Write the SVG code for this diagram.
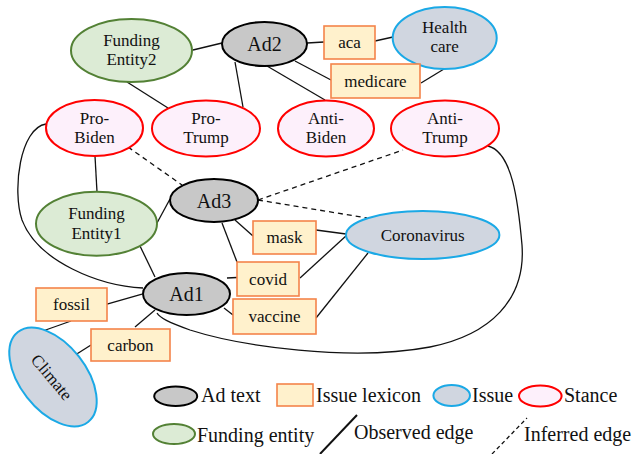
<svg xmlns="http://www.w3.org/2000/svg" width="635" height="454" viewBox="0 0 635 454">
<style>
text{font-family:"Liberation Serif","Times New Roman",serif;fill:#111;text-anchor:middle}
.t17{font-size:17px}
.t20{font-size:20px}
.lg{font-size:20px;text-anchor:start}
.ad{fill:#c8c8c8;stroke:#000;stroke-width:2}
.fund{fill:#dcebd5;stroke:#538135;stroke-width:2}
.stance{fill:#fdf0fb;stroke:#ff0000;stroke-width:2}
.issue{fill:#d0d6e0;stroke:#1ba9e6;stroke-width:2}
.lex{fill:#fff1cc;stroke:#f4844a;stroke-width:1.6}
.e{fill:none;stroke:#111;stroke-width:1.3}
.d{fill:none;stroke:#111;stroke-width:1.3;stroke-dasharray:5,4}
</style>
<rect width="635" height="454" fill="#fff"/>
<g id="connectors">
<line class="e" x1="193" y1="50" x2="222" y2="43"/>
<line class="e" x1="127" y1="82" x2="168" y2="108"/>
<line class="e" x1="235" y1="62" x2="243" y2="107"/>
<line class="e" x1="267" y1="66" x2="325" y2="100"/>
<line class="e" x1="295" y1="61" x2="331" y2="80"/>
<line class="e" x1="307" y1="43" x2="324" y2="42"/>
<line class="e" x1="375" y1="41" x2="393" y2="37"/>
<line class="e" x1="421" y1="83" x2="444" y2="69"/>
<line class="e" x1="95" y1="156" x2="97" y2="192"/>
<path class="e" d="M46,124 C20,128 12,190 22,220 C38,262 100,286 143,288"/>
<line class="e" x1="170" y1="199" x2="157" y2="223"/>
<line class="e" x1="235" y1="220" x2="253" y2="236"/>
<line class="e" x1="222" y1="223" x2="237" y2="262"/>
<line class="e" x1="140" y1="246" x2="155" y2="277"/>
<line class="e" x1="227" y1="278" x2="237" y2="277.5"/>
<line class="e" x1="316" y1="230" x2="346" y2="234"/>
<line class="e" x1="300" y1="278" x2="347" y2="235"/>
<line class="e" x1="316" y1="318" x2="368" y2="253"/>
<line class="e" x1="224" y1="308" x2="233" y2="315"/>
<line class="e" x1="142" y1="294" x2="107" y2="304"/>
<line class="e" x1="155" y1="310" x2="135" y2="327"/>
<line class="e" x1="71" y1="321" x2="40" y2="332"/>
<line class="e" x1="91" y1="345" x2="72" y2="357"/>
<path class="e" d="M488,146 C512,152 518,200 522,245 C526,300 490,335 430,347 C350,362 240,346 190,330 C168,322 160,318 157,313"/>
<line class="d" x1="128" y1="147" x2="182" y2="185"/>
<line class="d" x1="258" y1="200" x2="403" y2="150"/>
<line class="d" x1="258" y1="200" x2="367" y2="218"/>
</g>
<g id="funding-entity2"><ellipse class="fund" cx="131.5" cy="50.5" rx="60.5" ry="31.5"/><text class="t17" x="131.5" y="46">Funding</text><text class="t17" x="131.5" y="65">Entity2</text></g>
<g id="ad2"><ellipse class="ad" cx="264.5" cy="44" rx="42.5" ry="22"/><text class="t20" x="264.5" y="51">Ad2</text></g>
<g id="aca"><rect class="lex" x="324" y="26" width="51" height="33"/><text class="t17" x="349.5" y="48">aca</text></g>
<g id="health-care"><ellipse class="issue" cx="444.7" cy="38" rx="52" ry="31"/><text class="t17" x="444.7" y="32.5">Health</text><text class="t17" x="444.7" y="52">care</text></g>
<g id="medicare"><rect class="lex" x="331" y="64" width="89" height="34"/><text class="t17" x="375.5" y="87">medicare</text></g>
<g id="pro-biden"><ellipse class="stance" cx="94.5" cy="128" rx="48.5" ry="28"/><text class="t17" x="94.5" y="123.5">Pro-</text><text class="t17" x="94.5" y="142.5">Biden</text></g>
<g id="pro-trump"><ellipse class="stance" cx="206" cy="128.5" rx="54" ry="28"/><text class="t17" x="206" y="124">Pro-</text><text class="t17" x="206" y="143">Trump</text></g>
<g id="anti-biden"><ellipse class="stance" cx="326" cy="128.5" rx="48" ry="28"/><text class="t17" x="326" y="124">Anti-</text><text class="t17" x="326" y="143">Biden</text></g>
<g id="anti-trump"><ellipse class="stance" cx="445" cy="128.5" rx="54" ry="28"/><text class="t17" x="445" y="124">Anti-</text><text class="t17" x="445" y="143">Trump</text></g>
<g id="ad3"><ellipse class="ad" cx="214" cy="200.5" rx="44" ry="21.5"/><text class="t20" x="214" y="207.5">Ad3</text></g>
<g id="funding-entity1"><ellipse class="fund" cx="96.5" cy="223.7" rx="60.5" ry="32"/><text class="t17" x="96.5" y="219">Funding</text><text class="t17" x="96.5" y="238.5">Entity1</text></g>
<g id="mask"><rect class="lex" x="253" y="221" width="63" height="33"/><text class="t17" x="284.5" y="243">mask</text></g>
<g id="coronavirus"><ellipse class="issue" cx="422.7" cy="235" rx="76.7" ry="24"/><text class="t17" x="422.7" y="241">Coronavirus</text></g>
<g id="covid"><rect class="lex" x="237" y="262" width="62" height="34"/><text class="t17" x="268" y="284.5">covid</text></g>
<g id="ad1"><ellipse class="ad" cx="186.5" cy="294" rx="43.5" ry="21"/><text class="t20" x="186.5" y="301">Ad1</text></g>
<g id="vaccine"><rect class="lex" x="233" y="299" width="83" height="35"/><text class="t17" x="274.5" y="322">vaccine</text></g>
<g id="fossil"><rect class="lex" x="36" y="288" width="71" height="33"/><text class="t17" x="71.5" y="310">fossil</text></g>
<g id="carbon"><rect class="lex" x="91" y="329" width="79" height="32"/><text class="t17" x="130.5" y="350.5">carbon</text></g>
<g id="climate"><ellipse class="issue" cx="0" cy="0" rx="57" ry="33" transform="translate(53,377) rotate(52)"/><text class="t17" x="0" y="6" transform="translate(52,377) rotate(50)">Climate</text></g>
<g id="legend">
<ellipse class="ad" cx="175.7" cy="396.3" rx="21.5" ry="9.7"/><text class="lg" x="201" y="402">Ad text</text>
<rect class="lex" x="277" y="384" width="36" height="22"/><text class="lg" x="316" y="402">Issue lexicon</text>
<ellipse class="issue" cx="451.7" cy="395.5" rx="18.3" ry="10.5"/><text class="lg" x="472" y="402">Issue</text>
<ellipse class="stance" cx="540.3" cy="396" rx="21.3" ry="10.5"/><text class="lg" x="564" y="402">Stance</text>
<ellipse class="fund" cx="174" cy="434" rx="21" ry="10"/><text class="lg" x="197" y="441.5">Funding entity</text>
<line class="e" x1="320" y1="454" x2="357" y2="415" style="stroke-width:2"/><text class="lg" x="354" y="438.5">Observed edge</text>
<line class="d" x1="492" y1="454" x2="527" y2="418" style="stroke-dasharray:4,3"/><text class="lg" x="524" y="441">Inferred edge</text>
</g>
</svg>
